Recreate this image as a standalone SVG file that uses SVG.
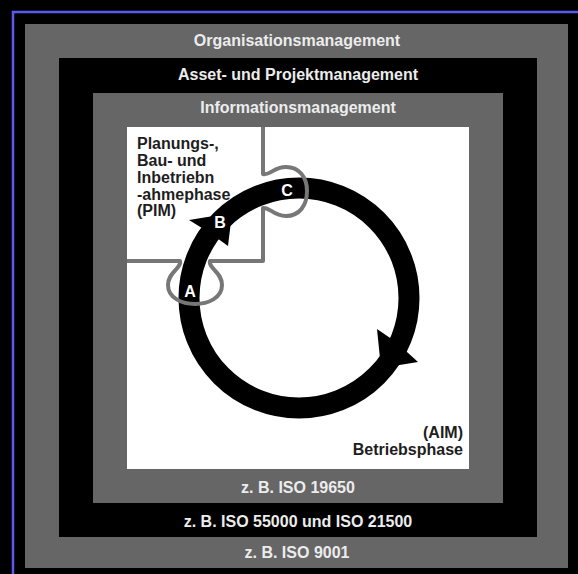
<svg xmlns="http://www.w3.org/2000/svg" width="578" height="574" viewBox="0 0 578 574">
<style>
.band{font-family:"Liberation Sans",Arial,sans-serif;font-weight:bold;font-size:16px;fill:#ececec;text-anchor:middle}
.dark{font-family:"Liberation Sans",Arial,sans-serif;font-weight:bold;font-size:16px;fill:#1e1e1e}
.lbl{font-family:"Liberation Sans",Arial,sans-serif;font-weight:bold;font-size:16px;fill:#ffffff;text-anchor:middle}
.grey{fill:#666666}
.puzzle{fill:none;stroke:#777777;stroke-width:4;stroke-linejoin:round}
</style>
<rect x="0" y="0" width="578" height="574" fill="#000000"/>
<path d="M13,574 V12 H578" fill="none" stroke="#5a5af0" stroke-width="2.5"/>
<g id="organisationsmanagement">
<rect class="grey" x="25" y="24" width="543" height="544"/>
<text class="band" x="297" y="46">Organisationsmanagement</text>
<text class="band" x="297" y="558">z. B. ISO 9001</text>
</g>
<g id="asset-projektmanagement">
<rect x="59" y="58" width="478" height="479" fill="#000000"/>
<text class="band" x="298" y="80">Asset- und Projektmanagement</text>
<text class="band" x="298" y="527">z. B. ISO 55000 und ISO 21500</text>
</g>
<g id="informationsmanagement">
<rect class="grey" x="93" y="93" width="410" height="410"/>
<text class="band" x="298" y="113">Informationsmanagement</text>
<text class="band" x="298" y="493">z. B. ISO 19650</text>
</g>
<g id="phasen">
<rect x="127" y="127" width="342" height="342" fill="#ffffff"/>
<text class="dark" x="137" y="149">Planungs-,</text>
<text class="dark" x="137" y="166">Bau- und</text>
<text class="dark" x="137" y="183">Inbetriebn</text>
<text class="dark" x="137" y="200">-ahmephase</text>
<text class="dark" x="137" y="216">(PIM)</text>
<text class="dark" x="463" y="438" text-anchor="end">(AIM)</text>
<text class="dark" x="463" y="455" text-anchor="end">Betriebsphase</text>
</g>
<g id="connectors">
<circle cx="299" cy="298" r="110" fill="none" stroke="#000000" stroke-width="21"/>
<polygon points="189,220 232,213 228,246 210,233" fill="#000000"/>
<polygon points="377,329 396,342 418,362 381,368" fill="#000000"/>
</g>
<g id="puzzle">
<path class="puzzle" d="M263,127 V174 C270,176 273,167 286,167 C299,167 307,177 307,191 C307,206 299,216 286,216 C273,216 270,207 263,208 V261 H210 C208,268 222,272 222,285 C222,298 208,304 195,304 C182,304 168,298 168,285 C168,272 182,268 180,261 H127"/>
</g>
<g id="labels">
<text class="lbl" x="190" y="297">A</text>
<text class="lbl" x="220" y="228">B</text>
<text class="lbl" x="287" y="196">C</text>
</g>
</svg>
